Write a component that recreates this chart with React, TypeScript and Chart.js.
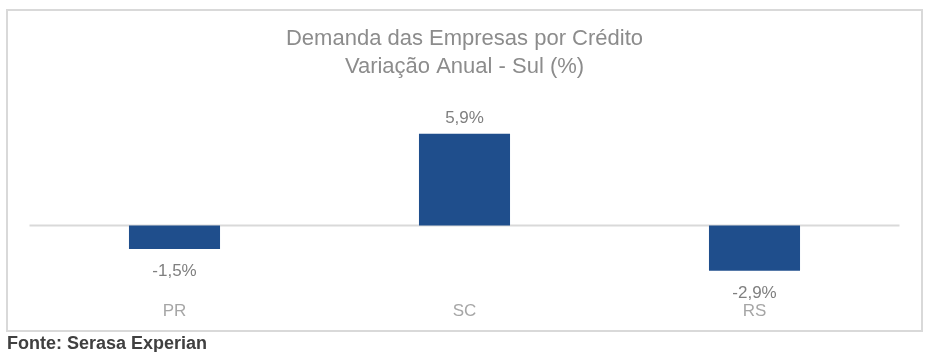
import React, { useEffect, useRef } from "react";
import { Chart, registerables } from "chart.js";

Chart.register(...registerables);

const categories = ["PR", "SC", "RS"];
const values = [-1.5, 5.9, -2.9];
const valueLabels = ["-1,5%", "5,9%", "-2,9%"];
const titleLines = ["Demanda das Empresas por Crédito", "Variação Anual - Sul (%)"];
const sourceText = "Fonte: Serasa Experian";

const FONT = "'Liberation Sans', Arial, sans-serif";

const zeroLinePlugin = {
  id: "zeroLine",
  beforeDatasetsDraw(chart: any) {
    const ctx = chart.ctx;
    const y = chart.scales.y.getPixelForValue(0);
    const { left, right } = chart.chartArea;
    ctx.save();
    ctx.strokeStyle = "#d9d9d9";
    ctx.lineWidth = 2;
    ctx.beginPath();
    ctx.moveTo(left, y);
    ctx.lineTo(right, y);
    ctx.stroke();
    ctx.restore();
  },
};

const labelPlugin = {
  id: "valueLabels",
  afterDatasetsDraw(chart: any) {
    const ctx = chart.ctx;
    const meta = chart.getDatasetMeta(0);
    ctx.save();
    ctx.font = `17px ${FONT}`;
    ctx.fillStyle = "#7f7f7f";
    ctx.textAlign = "center";
    ctx.textBaseline = "alphabetic";
    meta.data.forEach((bar: any, i: number) => {
      const v = values[i];
      if (v >= 0) {
        ctx.fillText(valueLabels[i], bar.x, bar.y - 11);
      } else {
        ctx.fillText(valueLabels[i], bar.x, bar.y + 27);
      }
    });
    ctx.restore();
  },
};

export default function App() {
  const ref = useRef<HTMLCanvasElement | null>(null);

  useEffect(() => {
    if (!ref.current) return;
    const chart = new Chart(ref.current, {
      type: "bar",
      data: {
        labels: categories,
        datasets: [
          {
            data: values,
            backgroundColor: "#1f4e8c",
            borderWidth: 0,
            barPercentage: 0.314,
            categoryPercentage: 1,
          },
        ],
      },
      options: {
        animation: false,
        responsive: false,
        maintainAspectRatio: false,
        layout: { padding: { left: 21.5, right: 21.5, top: 0, bottom: 2 } },
        plugins: {
          legend: { display: false },
          tooltip: { enabled: false },
          title: {
            display: true,
            text: titleLines,
            color: "#8c8c8c",
            font: { family: FONT, size: 22, weight: "normal", lineHeight: 1.26 },
            padding: { top: 14.15, bottom: 28.2 },
          },
        },
        scales: {
          x: {
            grid: { display: false, drawTicks: false },
            border: { display: false },
            ticks: {
              color: "#a6a6a6",
              font: { family: FONT, size: 17 },
              padding: 6,
            },
          },
          y: {
            display: false,
            min: -4.5,
            max: 7.5,
          },
        },
      },
      plugins: [zeroLinePlugin, labelPlugin],
    });
    return () => chart.destroy();
  }, []);

  return (
    <div style={{ position: "fixed", left: 0, top: 0, width: 930, height: 352, background: "#fff" }}>
      <div
        style={{
          position: "absolute",
          left: 6,
          top: 9,
          width: 917,
          height: 323,
          border: "2px solid #d9d9d9",
          boxSizing: "border-box",
        }}
      />
      <canvas
        ref={ref}
        width={913}
        height={319}
        style={{ position: "absolute", left: 8, top: 11, width: 913, height: 319 }}
      />
      <div
        style={{
          position: "absolute",
          left: 7,
          top: 333,
          font: `bold 18px ${FONT}`,
          color: "#404040",
          whiteSpace: "nowrap",
        }}
      >
        {sourceText}
      </div>
    </div>
  );
}
